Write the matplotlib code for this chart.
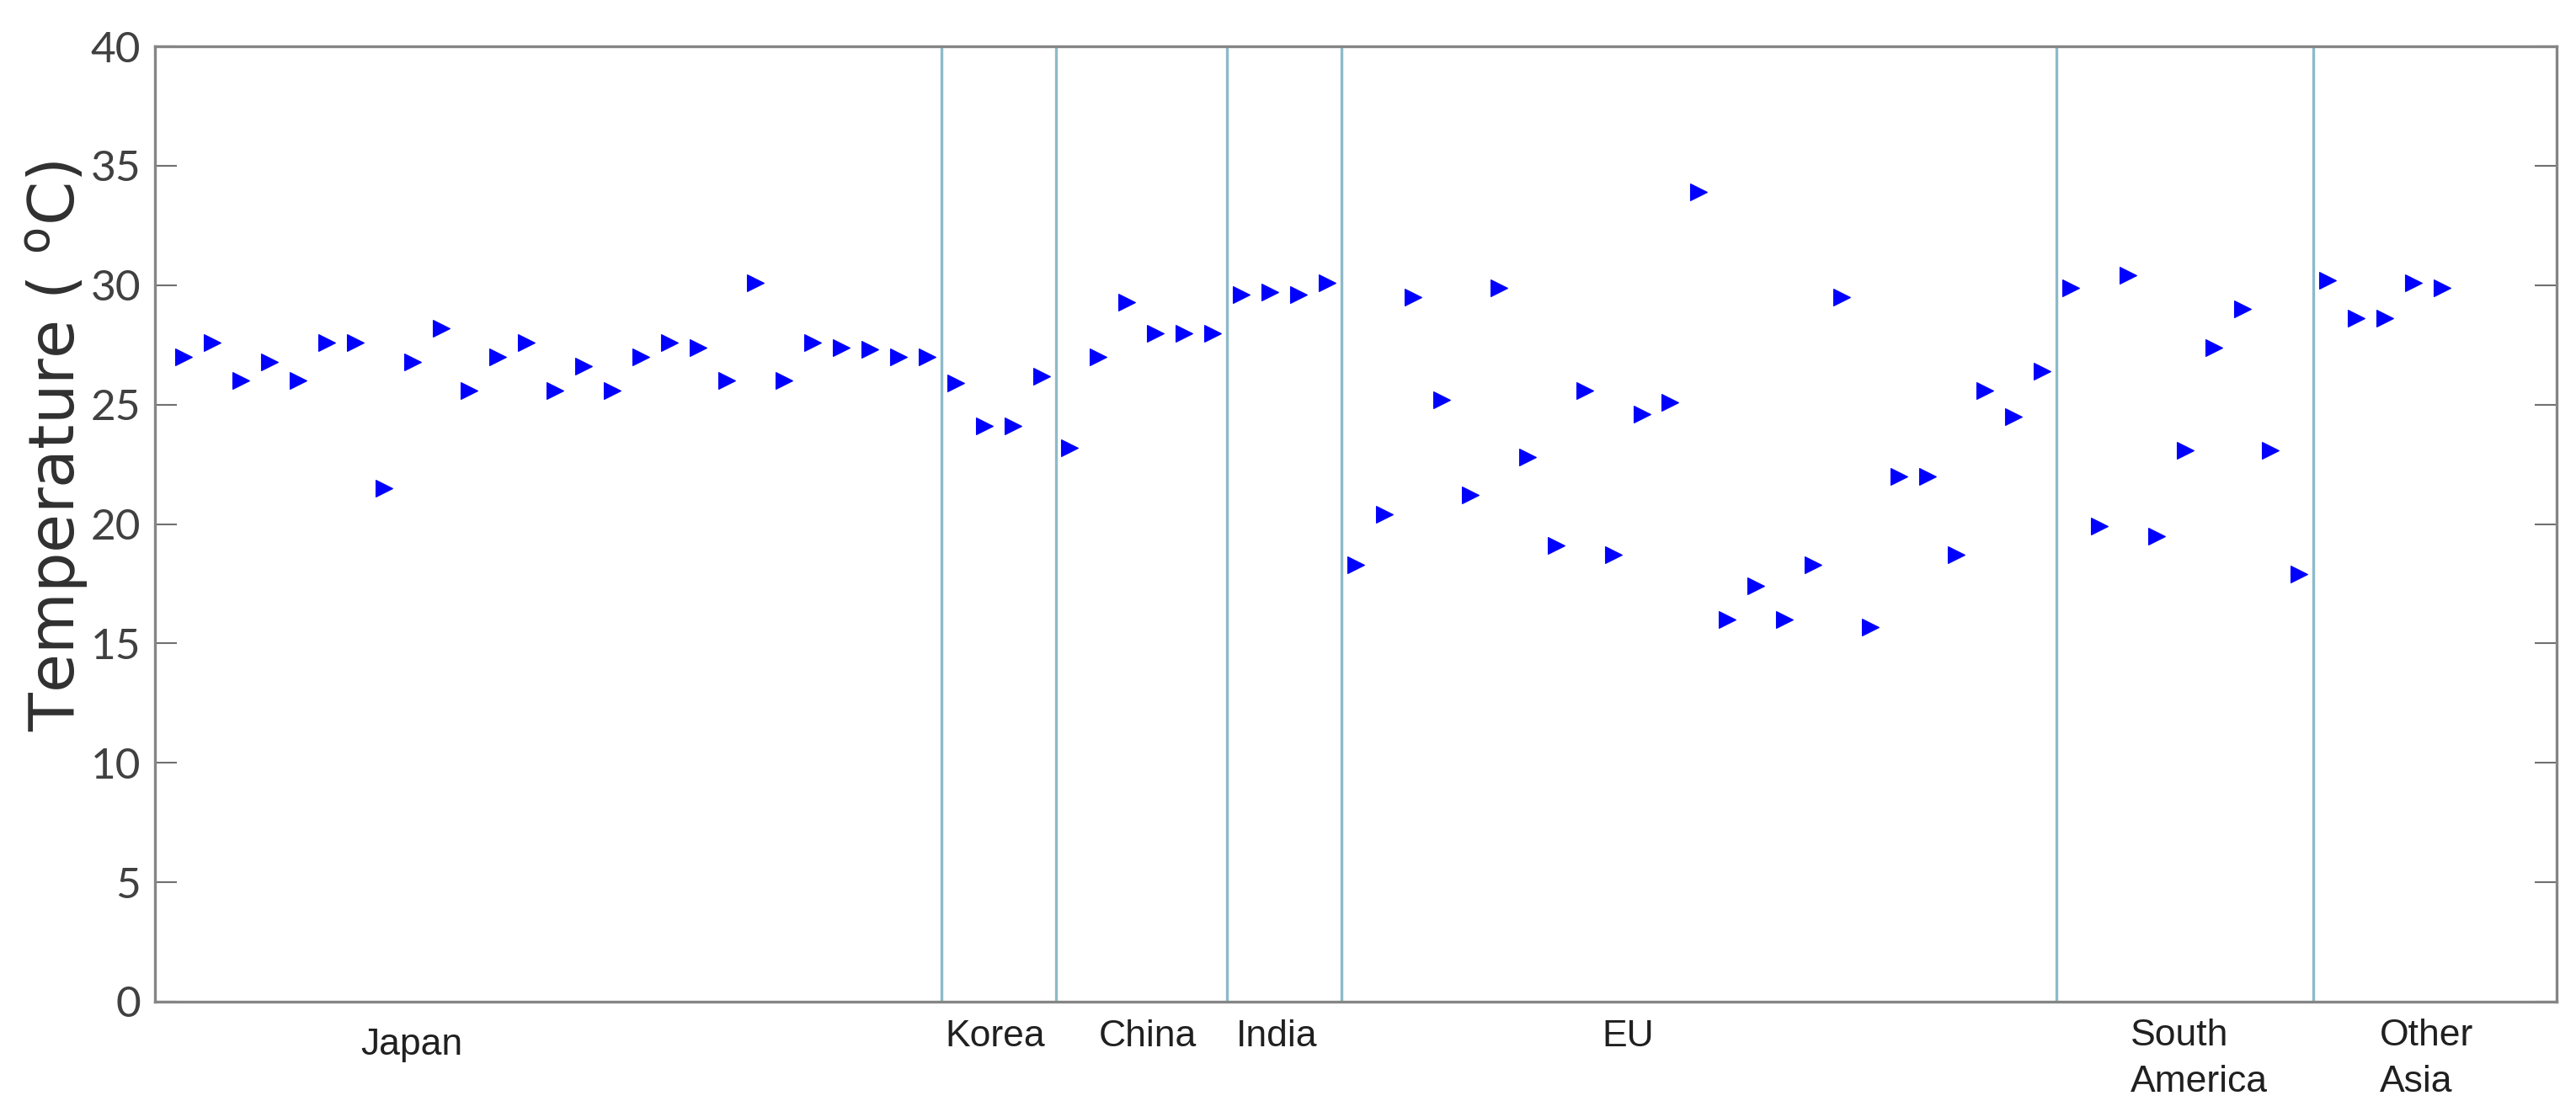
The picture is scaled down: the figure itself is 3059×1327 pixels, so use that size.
import matplotlib
matplotlib.use("Agg")
import matplotlib.pyplot as plt
import matplotlib.transforms as mtransforms

# ---- data ----
regions = ["Japan", "Korea", "China", "India", "EU", "South\nAmerica", "Other\nAsia"]
japan = [27.0, 27.6, 26.0, 26.8, 26.0, 27.6, 27.6, 21.5, 26.8, 28.2, 25.6, 27.0, 27.6, 25.6,
         26.6, 25.6, 27.0, 27.6, 27.4, 26.0, 30.1, 26.0, 27.6, 27.4, 27.3, 27.0, 27.0]
korea = [25.9, 24.1, 24.1, 26.2]
china = [23.2, 27.0, 29.3, 28.0, 28.0, 28.0]
india = [29.6, 29.7, 29.6, 30.1]
eu = [18.3, 20.4, 29.5, 25.2, 21.2, 29.9, 22.8, 19.1, 25.6, 18.7, 24.6, 25.1,
      33.9, 16.0, 17.4, 16.0, 18.3, 29.5, 15.7, 22.0, 22.0, 18.7, 25.6, 24.5, 26.4]
south_america = [29.9, 19.9, 30.4, 19.5, 23.1, 27.4, 29.0, 23.1, 17.9]
other_asia = [30.2, 28.6, 28.6, 30.1, 29.9]
groups = [japan, korea, china, india, eu, south_america, other_asia]
yticks = [0, 5, 10, 15, 20, 25, 30, 35, 40]
label_x = [7.2, 27.65, 33.0, 37.8, 50.6, 69.1, 77.8]

# ---- figure ----
W, H = 3059, 1327
fig = plt.figure(figsize=(W / 100, H / 100), dpi=100)
left, right, top, bottom = 184, 3036, 55, 1190
ax = fig.add_axes([left / W, 1 - bottom / H, (right - left) / W, (bottom - top) / H])

values = [v for g in groups for v in g]
xs = list(range(1, len(values) + 1))
ax.plot(xs, values, linestyle="none", marker=">", markersize=15,
        markerfacecolor="#0000ff", markeredgecolor="#0000ff", markeredgewidth=0.8)

# separators between groups
pos = 0
for g in groups[:-1]:
    pos += len(g)
    ax.axvline(pos + 0.5, color="#8dbaca", linewidth=2.4, zorder=0)

ax.set_xlim(0, 84)
ax.set_ylim(0, 40)
ax.set_xticks([])
ax.set_yticks(yticks)
ax.set_yticklabels([str(t) for t in yticks], fontfamily="Lato", fontsize=37, color="#404040")
ax.tick_params(axis="y", direction="in", length=19, width=1.5, color="#707070",
               right=True, left=True, pad=12)
for s in ax.spines.values():
    s.set_color("#858585")
    s.set_linewidth(2.4)

# category labels
trans = mtransforms.blended_transform_factory(ax.transData, ax.transAxes)
lab_kw = dict(transform=trans, ha="left", va="baseline",
              fontfamily="Liberation Sans", fontsize=32, color="#202020")
for name, lx in zip(regions, label_x):
    if "\n" in name:
        l1, l2 = name.split("\n")
        ax.text(lx, -0.046, l1, **lab_kw)
        ax.text(lx, -0.0945, l2, **lab_kw)
    else:
        yb = -0.0555 if name == "Japan" else -0.047
        ax.text(lx, yb, name, **lab_kw)

fig.text(68 / W, 1 - 530 / H, "Temperature ( $^{\\mathrm{o}}$C)", rotation=90,
         ha="center", va="center", fontfamily="DejaVu Sans", fontsize=54, color="#303030")

fig.savefig("out.png", dpi=100, facecolor="white")
